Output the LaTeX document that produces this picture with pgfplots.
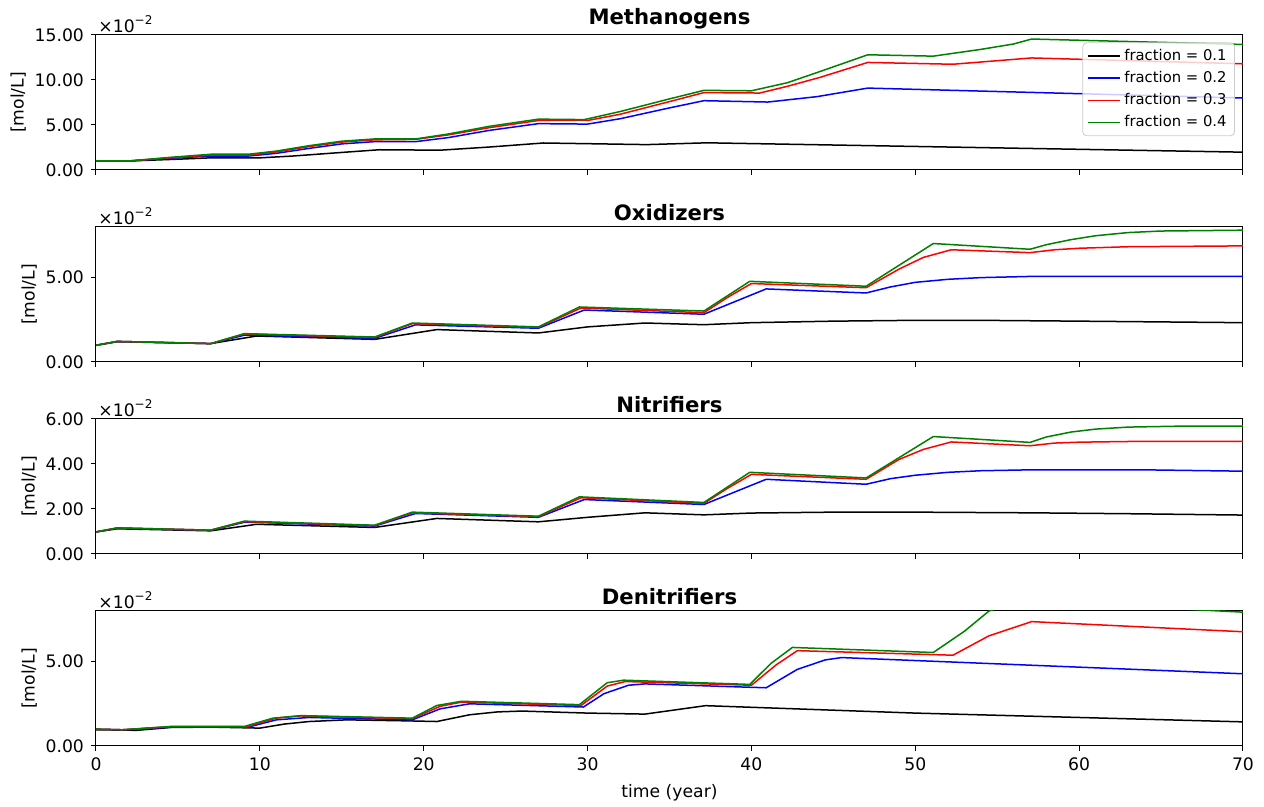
\documentclass[border=0pt]{standalone}
\usepackage{fontspec}
\setmainfont{DejaVu Sans}
\usepackage{pgfplots}
\pgfplotsset{compat=1.18}

\definecolor{mplgreen}{rgb}{0,0.5,0}

% concentrations are given in units of 1e-2 mol/L
\pgfplotsset{
  panel/.style={
    scale only axis, width=573.5pt, height=67.5pt,
    xmin=0, xmax=70, ymin=0,
    xtick={0,10,...,70},
    xtick pos=bottom, ytick pos=left,
    tick align=outside,
    major tick length=2.5pt,
    axis line style={line width=0.5pt},
    every tick/.style={black, line width=0.5pt},
    tick label style={font=\fontsize{8.6}{10}\selectfont},
    label style={font=\fontsize{8.6}{10}\selectfont},
    every axis title/.style={at={(0.5,1)}, anchor=south, inner sep=3pt,
      font=\fontsize{10.6}{12}\selectfont\bfseries},
    ylabel={[mol/L]},
    ylabel shift=-2.5pt,
    /pgf/number format/assume math mode=true,
    yticklabel style={/pgf/number format/fixed, /pgf/number format/fixed zerofill,
      /pgf/number format/precision=2},
    scaled y ticks=false,
    extra description/.code={
      \node[anchor=south west, inner sep=1pt, font=\fontsize{8.6}{10}\selectfont]
        at (rel axis cs:0,1) {×10\textsuperscript{−2}};
    },
  },
}

\begin{document}
\begin{tikzpicture}
\path[use as bounding box] (-48pt,-318.5pt) rectangle (584pt,85pt);

% ---------------- Methanogens ----------------
\begin{axis}[panel, at={(0pt,0pt)}, anchor=south west,
  title={Methanogens}, ymax=15, ytick={0,5,10,15}, xticklabels={},
  legend cell align=left,
  legend image code/.code={\draw[#1, line width=0.8pt] (0pt,0pt) -- (16pt,0pt);},
  legend style={at={(rel axis cs:0.993,0.945)}, anchor=north east,
    draw=black!20, rounded corners=2pt, fill=white, fill opacity=0.8,
    text opacity=1, font=\fontsize{7.4}{9}\selectfont, row sep=0pt,
    inner xsep=2pt, inner ysep=1pt}]
\addplot[black, line width=0.75pt] coordinates {(0,1.0)(2,1.0)(5,1.2)(7,1.35)(10,1.35)(12,1.55)(15,1.95)(17.3,2.25)(21,2.2)(24,2.55)(27.3,3.0)(33.6,2.82)(37.3,3.02)(70,1.98)};
\addlegendentry{fraction = 0.1}
\addplot[blue, line width=0.75pt] coordinates {(0,1.0)(2,1.0)(4.5,1.3)(7,1.55)(9.3,1.55)(11,1.85)(13,2.4)(15,2.9)(17,3.15)(19.5,3.15)(21.5,3.6)(24,4.4)(27,5.15)(30,5.1)(32,5.7)(35,6.9)(37.1,7.7)(41,7.55)(44,8.15)(47.1,9.1)(70,8.0)};
\addlegendentry{fraction = 0.2}
\addplot[red, line width=0.75pt] coordinates {(0,1.0)(2,1.0)(4.5,1.35)(7,1.65)(9.3,1.65)(11,2.0)(13,2.6)(15,3.1)(17,3.35)(19.5,3.4)(21.5,3.9)(24,4.7)(27,5.5)(30,5.5)(32,6.2)(35,7.6)(37.1,8.6)(40.5,8.55)(42.2,9.3)(44.2,10.3)(47.1,11.95)(52.3,11.75)(57.1,12.45)(70,11.8)};
\addlegendentry{fraction = 0.3}
\addplot[mplgreen, line width=0.75pt] coordinates {(0,1.0)(2,1.0)(4.5,1.4)(7,1.75)(9.3,1.75)(11,2.1)(13,2.7)(15,3.2)(17,3.45)(19.5,3.45)(21.5,4.0)(24,4.85)(27,5.65)(29.8,5.6)(32,6.5)(35,7.9)(37.1,8.85)(40,8.8)(42.2,9.7)(44.2,10.95)(47.1,12.8)(51.1,12.65)(54,13.4)(56,14.0)(57.1,14.55)(70,13.95)};
\addlegendentry{fraction = 0.4}
\end{axis}

% ---------------- Oxidizers ----------------
\begin{axis}[panel, at={(0pt,-96pt)}, anchor=south west,
  title={Oxidizers}, ymax=8, ytick={0,5}, xticklabels={}]
\addplot[black, line width=0.75pt] coordinates {(0,0.99)(1.3,1.2)(7,1.09)(9.8,1.54)(17,1.34)(20.8,1.92)(27,1.72)(30,2.08)(33.5,2.31)(37.1,2.21)(40,2.33)(45,2.42)(50,2.47)(55,2.46)(60,2.42)(70,2.33)};
\addplot[blue, line width=0.75pt] coordinates {(0,0.99)(1.3,1.22)(7,1.09)(9.1,1.6)(17,1.4)(19.5,2.2)(27,2.0)(29.8,3.08)(37.1,2.83)(40.9,4.33)(47,4.09)(48.5,4.45)(50,4.72)(52,4.9)(54,5.0)(57,5.07)(70,5.08)};
\addplot[red, line width=0.75pt] coordinates {(0,0.99)(1.3,1.22)(7,1.09)(9.05,1.66)(17,1.45)(19.3,2.27)(27,2.05)(29.6,3.2)(37.1,2.92)(38.5,3.8)(40,4.65)(47,4.4)(49,5.5)(50.5,6.2)(52.2,6.65)(57,6.48)(58.5,6.65)(60,6.74)(63,6.83)(70,6.88)};
\addplot[mplgreen, line width=0.75pt] coordinates {(0,0.99)(1.3,1.22)(7,1.09)(9.05,1.68)(17,1.48)(19.3,2.31)(27,2.08)(29.5,3.26)(37.1,3.02)(39.9,4.78)(47,4.49)(51.1,7.02)(57,6.68)(58,6.95)(59.5,7.25)(61,7.48)(63,7.67)(65,7.76)(70,7.81)};
\end{axis}

% ---------------- Nitrifiers ----------------
\begin{axis}[panel, at={(0pt,-192pt)}, anchor=south west,
  title={Nitrifiers}, ymax=6, ytick={0,2,4,6}, xticklabels={}]
\addplot[black, line width=0.75pt] coordinates {(0,0.98)(1.3,1.12)(7,1.03)(9.8,1.32)(17,1.18)(20.8,1.58)(27,1.43)(30,1.63)(33.5,1.83)(37.1,1.74)(40,1.82)(45,1.86)(50,1.86)(57,1.83)(63,1.79)(70,1.73)};
\addplot[blue, line width=0.75pt] coordinates {(0,0.98)(1.3,1.15)(7,1.05)(9.1,1.42)(17,1.24)(19.5,1.8)(27,1.63)(29.8,2.42)(37.1,2.2)(40.9,3.32)(47,3.1)(48.5,3.35)(50,3.5)(52,3.63)(54,3.7)(57,3.74)(64,3.74)(70,3.68)};
\addplot[red, line width=0.75pt] coordinates {(0,0.98)(1.3,1.16)(7,1.06)(9.05,1.44)(17,1.26)(19.3,1.83)(27,1.66)(29.6,2.5)(37.1,2.25)(38.5,2.9)(40,3.54)(47,3.32)(49,4.2)(50.5,4.65)(52.2,4.98)(57,4.81)(58.5,4.93)(60,4.97)(63,5.0)(70,5.0)};
\addplot[mplgreen, line width=0.75pt] coordinates {(0,0.98)(1.3,1.16)(7,1.06)(9.05,1.46)(17,1.28)(19.3,1.86)(27,1.68)(29.5,2.54)(37.1,2.29)(39.9,3.63)(47,3.38)(51.1,5.22)(57,4.96)(58,5.2)(59.5,5.42)(61,5.55)(63,5.64)(66,5.68)(70,5.68)};
\end{axis}

% ---------------- Denitrifiers ----------------
\begin{axis}[panel, at={(0pt,-288pt)}, anchor=south west,
  title={Denitrifiers}, ymax=8, ytick={0,5}, xlabel={time (year)}]
\addplot[black, line width=0.75pt] coordinates {(0,0.96)(2.5,0.93)(4.6,1.1)(7,1.12)(10,1.06)(11.5,1.3)(13,1.45)(15.3,1.55)(19,1.49)(20.8,1.45)(22.8,1.85)(24.5,2.02)(26,2.07)(30,1.95)(33.5,1.89)(37.2,2.39)(50,1.95)(60,1.69)(70,1.43)};
\addplot[blue, line width=0.75pt] coordinates {(0,1.0)(1.6,0.96)(4.6,1.12)(9.3,1.12)(11,1.55)(13,1.69)(19.3,1.55)(21,2.2)(22.8,2.5)(29.75,2.31)(31,3.1)(32.5,3.6)(33.5,3.68)(40.9,3.45)(42.8,4.54)(44.5,5.1)(45.5,5.24)(70,4.28)};
\addplot[red, line width=0.75pt] coordinates {(0,1.0)(1.6,0.96)(4.6,1.15)(9.2,1.14)(11,1.65)(12.5,1.78)(19.3,1.62)(21,2.35)(22.3,2.6)(29.6,2.4)(31.2,3.55)(32.3,3.82)(40,3.6)(41.5,4.8)(42.8,5.65)(52.3,5.38)(54.5,6.53)(57.1,7.37)(70,6.77)};
\addplot[mplgreen, line width=0.75pt] coordinates {(0,1.0)(1.6,0.96)(4.6,1.16)(9.05,1.16)(10.8,1.65)(12.5,1.8)(19.3,1.65)(20.8,2.4)(22.3,2.65)(29.5,2.45)(31.2,3.75)(32.2,3.9)(39.9,3.65)(41.2,4.9)(42.5,5.84)(51.1,5.54)(53,6.8)(54.5,8.0)(56.5,8.6)(70,7.93)};
\end{axis}
\end{tikzpicture}
\end{document}
